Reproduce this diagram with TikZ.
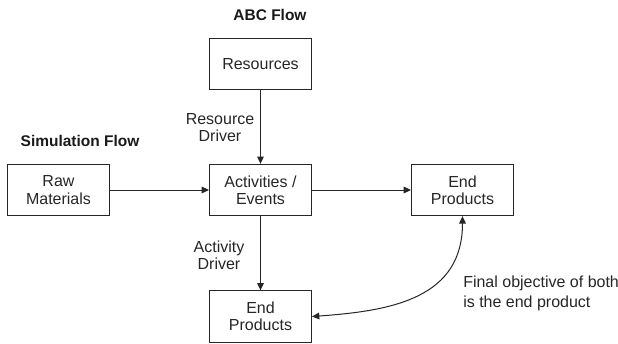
\documentclass[tikz,border=0pt]{standalone}
\usepackage{fontspec}
\setmainfont{Liberation Sans}
\usetikzlibrary{arrows.meta}
\begin{document}
\begin{tikzpicture}[x=0.75pt,y=-0.75pt,
  box/.style={draw=black!85,line width=0.75pt,minimum width=76.5pt,minimum height=38.5pt,inner sep=0pt,align=center,font=\fontsize{12}{13}\selectfont,text=black!85},
  lbl/.style={align=center,font=\fontsize{12}{13}\selectfont,text=black!85,inner sep=0pt},
  ttl/.style={font=\fontsize{11.6}{13}\selectfont\bfseries,text=black!90,inner sep=0pt},
  arr/.style={draw=black!85,line width=0.75pt,-{Triangle[length=5.5pt,width=5pt]}},
  darr/.style={draw=black!85,line width=0.75pt,{Triangle[length=5.5pt,width=5pt]}-{Triangle[length=5.5pt,width=5pt]}}]
\useasboundingbox (0,0) rectangle (618,343);
\node[box] (res) at (260.5,64) {Resources};
\node[box] (raw) at (58.5,190) {Raw\\Materials};
\node[box] (act) at (260.5,190) {Activities /\\Events};
\node[box] (endr) at (462.5,190) {End\\Products};
\node[box] (endb) at (260.5,316.5) {End\\Products};
\node[ttl] (abc) at (270,15) {ABC Flow};
\node[ttl] (sim) at (80,141) {Simulation Flow};
\node[lbl] (rd) at (220,127.5) {Resource\\Driver};
\node[lbl] (ad) at (219,255) {Activity\\Driver};
\node[lbl,align=left,anchor=west,font=\fontsize{12}{15}\selectfont] (fin) at (463,293) {Final objective of both\\is the end product};
\draw[arr] (res) -- (act);
\draw[arr] (raw) -- (act);
\draw[arr] (act) -- (endr);
\draw[arr] (act) -- (endb);
\draw[darr] (endb.east) to[out=4,in=-90,looseness=1.15] (endr.south);
\end{tikzpicture}
\end{document}
